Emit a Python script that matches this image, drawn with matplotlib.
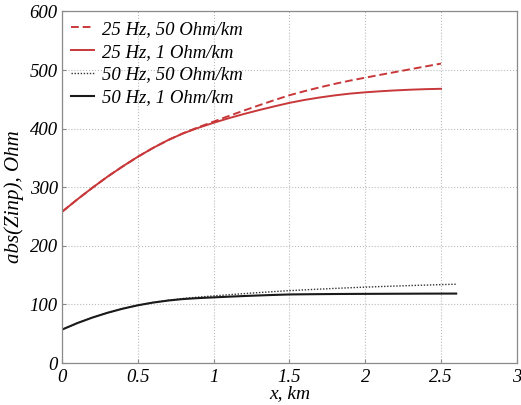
import matplotlib
matplotlib.use("Agg")
import numpy as np
import matplotlib.pyplot as plt

# distances along the line, km
x_red = [0.0, 0.1, 0.2, 0.3, 0.4, 0.5, 0.6, 0.7, 0.8, 0.9, 1.0,
         1.1, 1.2, 1.3, 1.4, 1.5, 1.6, 1.7, 1.8, 1.9, 2.0,
         2.1, 2.2, 2.3, 2.4, 2.5]
x_black = x_red + [2.6]

# |Zinp|, Ohm
z_25_50 = [258, 279, 299, 318, 335.5, 352, 367, 380.5, 392.3, 402.5, 412,
           421.6, 430.9, 439.9, 448.6, 457, 464, 470.5, 476.5, 482, 487,
           491.9, 496.7, 501.5, 506.3, 511]
z_25_1 = [258, 279, 299, 318, 335.5, 352, 367, 380.5, 392, 401.5, 410,
          417.8, 425, 431.7, 438, 444, 449, 453.2, 456.8, 459.8, 462,
          463.8, 465.3, 466.5, 467.4, 468]
z_50_50 = [57, 68, 77.5, 85.7, 92.7, 98.5, 103.3, 107.1, 110.1, 112.5, 114.5,
           116.5, 118.4, 120.2, 121.9, 123.5, 124.85, 126.1, 127.3, 128.45, 129.5,
           130.45, 131.35, 132.2, 133.0, 133.77, 134.5]
z_50_1 = [57, 68, 77.5, 85.7, 92.7, 98.5, 103.1, 106.6, 109.2, 110.8, 112,
          113.2, 114.3, 115.3, 116.2, 117, 117.3, 117.55, 117.75, 117.9, 118,
          118.1, 118.2, 118.3, 118.4, 118.45, 118.5]

labels = ["25 Hz, 50 Ohm/km", "25 Hz, 1 Ohm/km", "50 Hz, 50 Ohm/km", "50 Hz, 1 Ohm/km"]
x_ticks = [0, 0.5, 1, 1.5, 2, 2.5, 3]
x_tick_labels = ["0", "0.5", "1", "1.5", "2", "2.5", "3"]
y_ticks = [0, 100, 200, 300, 400, 500, 600]

plt.rcParams['font.family'] = ['Liberation Serif', 'DejaVu Serif']
plt.rcParams['font.style'] = 'italic'

fig = plt.figure(figsize=(5.21, 4.05), dpi=100)
ax = fig.add_axes([0.119, 0.1037, 0.873, 0.868])

red = '#c8383a'
ax.plot(x_red, z_25_50, color=red, lw=1.4, ls=(0, (4, 2)), label=labels[0])
ax.plot(x_red, z_25_1, color=red, lw=1.4, label=labels[1])
ax.plot(x_black, z_50_50, color='#333333', lw=1.0, ls=(0, (1, 1.2)), label=labels[2])
ax.plot(x_black, z_50_1, color='#1a1a1a', lw=1.5, label=labels[3])

ax.set_xlim(0, 3)
ax.set_ylim(0, 600)
ax.set_xticks(x_ticks)
ax.set_xticklabels(x_tick_labels)
ax.set_yticks(y_ticks)
ax.grid(True, color='#bbbbbb', ls=':', lw=0.8)
ax.tick_params(direction='in', length=3, color='#888888', labelsize=13.5, pad=4)
ax.tick_params(axis='y', pad=3)
for sp in ax.spines.values():
    sp.set_color('#8a8a8a')
    sp.set_linewidth(0.9)

ax.set_xlabel("x, km", fontsize=14, labelpad=0)
ax.set_ylabel("abs(Zinp), Ohm", fontsize=15)
ax.yaxis.set_label_coords(-0.083, 0.472)

leg = ax.legend(loc='upper left', frameon=False, fontsize=13.5, handlelength=1.2,
                handletextpad=0.45, labelspacing=0.3, borderaxespad=0.1,
                bbox_to_anchor=(0.0, 1.0))

plt.savefig("out.png", dpi=100)
